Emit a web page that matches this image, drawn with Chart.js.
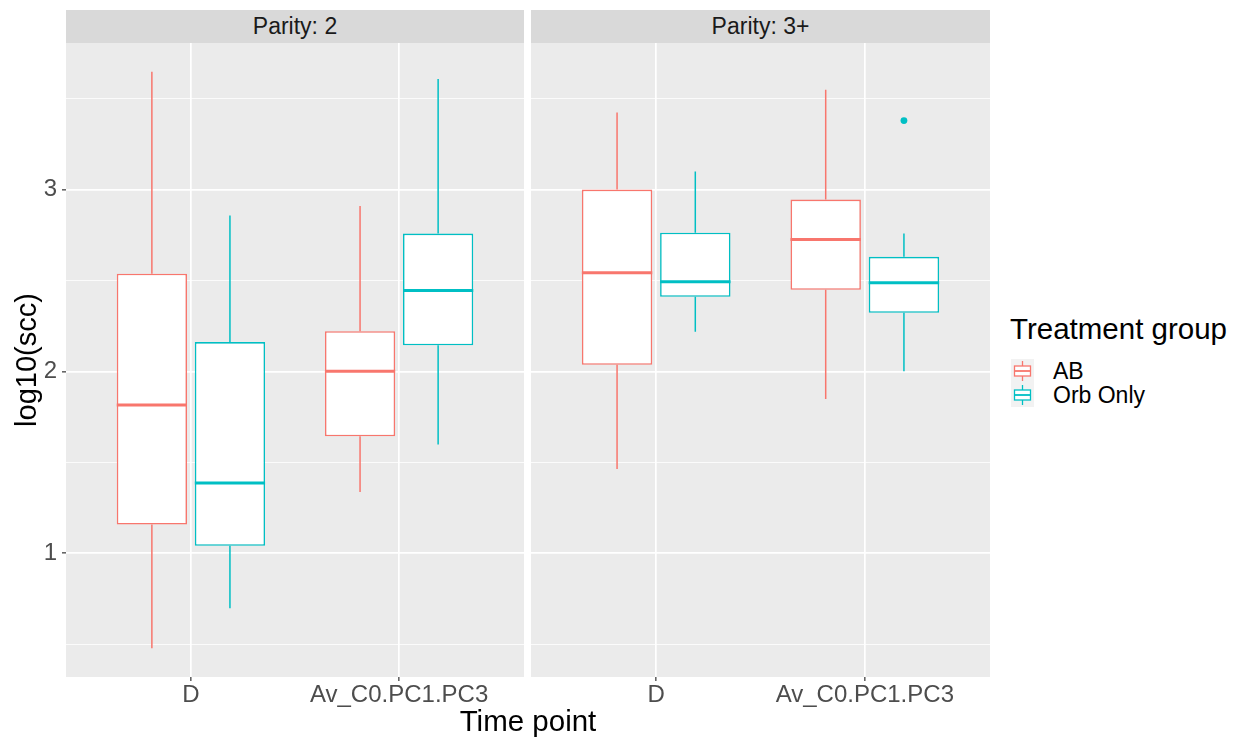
<!DOCTYPE html>
<html>
<head>
<meta charset="utf-8">
<script src="https://cdn.jsdelivr.net/npm/chart.js@4.4.1/dist/chart.umd.min.js"></script>
<style>
  body { margin: 0; background: #ffffff; font-family: "Liberation Sans", Arial, sans-serif; }
  #wrap { position: relative; width: 1240px; height: 740px; overflow: hidden; }
  canvas { position: absolute; }
  .strip { position: absolute; top: 10px; height: 33px; line-height: 33px; background: #d9d9d9;
           color: #1a1a1a; font-size: 23px; text-align: center; }
  .title { position: absolute; color: #000000; font-size: 29.5px; white-space: nowrap; }
  .key { position: absolute; left: 1011px; width: 23px; height: 24px; }
  .keyLabel { position: absolute; left: 1053px; font-size: 23px; line-height: 24px; color: #000000; }
</style>
</head>
<body>
<div id="wrap">
  <canvas id="panel2" width="524" height="680" style="left:0px; top:43px;"></canvas>
  <canvas id="panel3" width="459" height="680" style="left:531px; top:43px;"></canvas>
  <div class="strip" style="left:66px; width:458px;">Parity: 2</div>
  <div class="strip" style="left:531px; width:459px;">Parity: 3+</div>
  <div class="title" style="left:66px; width:924px; top:704px; line-height:34px; text-align:center;">Time point</div>
  <div class="title" style="left:1010px; top:312px; line-height:34px;">Treatment group</div>
  <div id="legendKeys"></div>
</div>
<script>
/* ── Data: [lower whisker, Q1, median, Q3, upper whisker] per time point ── */
const timePoints  = ['D', 'Av_C0.PC1.PC3'];
const groupNames  = ['AB', 'Orb Only'];
const groupColors = ['#F8766D', '#00BFC4'];

const parity2AB  = [[0.477, 1.157, 1.815, 2.537, 3.648], [1.336, 1.643, 2.0, 2.221, 2.91]];
const parity2Orb = [[0.697, 1.04, 1.386, 2.161, 2.857], [1.597, 2.143, 2.445, 2.758, 3.608]];
const parity3AB  = [[1.463, 2.036, 2.543, 3.0, 3.424], [1.848, 2.449, 2.725, 2.945, 3.55]];
const parity3Orb = [[2.218, 2.41, 2.493, 2.763, 3.10], [2.0, 2.322, 2.488, 2.63, 2.758]];
const parity2OrbOutliers = [[], []];
const parity3OrbOutliers = [[], [3.38]];

const yLabelTicks = [1, 2, 3];

/* ── Layout constants (ggplot-like) ── */
const FONT       = '"Liberation Sans", Arial, sans-serif';
const DODGE      = 0.1875;      // half of 0.75 dodge width
const PANEL_H    = 634;
const X_AXIS_H   = 680 - PANEL_H;
const Y_AXIS_W   = 66;

function xPos(t, g) { return t + 1 + (g === 0 ? -DODGE : DODGE); }

/* shared y range: data range expanded by 5% each side */
const allValues = [parity2AB, parity2Orb, parity3AB, parity3Orb].flat(2)
  .concat(parity2OrbOutliers.flat(), parity3OrbOutliers.flat());
const dataMin = Math.min(...allValues);
const dataMax = Math.max(...allValues);
const yMin = dataMin - (dataMax - dataMin) * 0.05;
const yMax = dataMax + (dataMax - dataMin) * 0.05;

const yGridValues = [];
for (let v = Math.ceil(yMin * 2) / 2; v <= yMax; v += 0.5) yGridValues.push(v);
function isMajor(v) { return yLabelTicks.includes(v); }

function noPadding(s) {
  s.paddingTop = 0; s.paddingBottom = 0; s.paddingLeft = 0; s.paddingRight = 0;
}

/* ── Plugins ── */
const panelBg = {
  id: 'panelBg',
  beforeDraw(chart) {
    const { ctx, chartArea: a } = chart;
    ctx.save();
    ctx.fillStyle = '#ebebeb';
    ctx.fillRect(a.left, a.top, a.right - a.left, a.bottom - a.top);
    ctx.restore();
  }
};

const whiskers = {
  id: 'whiskers',
  afterDatasetsDraw(chart) {
    const { ctx } = chart;
    const yScale = chart.scales.y;
    chart.data.datasets.forEach((ds, di) => {
      if (!ds.stats) return;
      const meta = chart.getDatasetMeta(di);
      meta.data.forEach((bar, i) => {
        const s = ds.stats[i];
        const { x, width } = bar.getProps(['x', 'width'], true);
        ctx.save();
        ctx.strokeStyle = ds.borderColor;
        ctx.lineWidth = 1.5;
        ctx.beginPath();
        ctx.moveTo(x, yScale.getPixelForValue(s[0]));
        ctx.lineTo(x, yScale.getPixelForValue(s[1]));
        ctx.moveTo(x, yScale.getPixelForValue(s[3]));
        ctx.lineTo(x, yScale.getPixelForValue(s[4]));
        ctx.stroke();
        ctx.lineWidth = 3;
        ctx.beginPath();
        const ym = yScale.getPixelForValue(s[2]);
        ctx.moveTo(x - width / 2, ym);
        ctx.lineTo(x + width / 2, ym);
        ctx.stroke();
        ctx.restore();
      });
    });
  }
};

/* ── Panels ── */
function boxDataset(stats, g) {
  return {
    type: 'bar',
    label: groupNames[g],
    data: stats.map((s, t) => ({ x: xPos(t, g), y: [s[1], s[3]] })),
    stats,
    backgroundColor: '#ffffff',
    borderColor: groupColors[g],
    borderWidth: 1.6,
    borderSkipped: false,
    grouped: false,
    categoryPercentage: 0.9,
    barPercentage: 1.0,
    order: 2
  };
}

function outlierDataset(outliers, g) {
  return {
    type: 'line',
    label: groupNames[g] + ' outliers',
    data: outliers.flatMap((list, t) => list.map(v => ({ x: xPos(t, g), y: v }))),
    showLine: false,
    pointRadius: 3.4,
    pointBackgroundColor: groupColors[g],
    pointBorderWidth: 0,
    order: 0
  };
}

function makePanel(canvasId, abStats, orbStats, orbOutliers, showY) {
  return new Chart(document.getElementById(canvasId), {
    type: 'bar',
    data: {
      datasets: [
        boxDataset(abStats, 0),
        boxDataset(orbStats, 1),
        outlierDataset(orbOutliers, 1)
      ]
    },
    options: {
      responsive: false,
      devicePixelRatio: 1,
      animation: false,
      layout: { padding: 0, autoPadding: false },
      plugins: { legend: { display: false }, tooltip: { enabled: false } },
      scales: {
        x: {
          type: 'linear',
          min: 0.4,
          max: timePoints.length + 0.6,
          offset: false,
          afterBuildTicks: s => { s.ticks = timePoints.map((_, i) => ({ value: i + 1 })); },
          afterFit: s => { s.height = X_AXIS_H; noPadding(s); },
          grid: { color: '#ffffff', lineWidth: 1.7, offset: false,
                  tickColor: '#333333', tickLength: 4, tickWidth: 1.2 },
          border: { display: false },
          ticks: {
            callback: v => timePoints[Math.round(v) - 1],
            color: '#4d4d4d',
            font: { family: FONT, size: 24 },
            padding: 0,
            maxRotation: 0,
            autoSkip: false
          }
        },
        y: {
          type: 'linear',
          min: yMin,
          max: yMax,
          beginAtZero: false,
          afterBuildTicks: s => { s.ticks = yGridValues.map(v => ({ value: v })); },
          afterFit: s => { s.width = showY ? Y_AXIS_W : 0; noPadding(s); },
          grid: {
            color: '#ffffff',
            lineWidth: c => isMajor(c.tick.value) ? 1.7 : 0.8,
            drawTicks: showY,
            tickColor: c => isMajor(c.tick.value) ? '#333333' : 'rgba(0,0,0,0)',
            tickLength: 4,
            tickWidth: 1.2
          },
          border: { display: false },
          ticks: {
            display: showY,
            callback: v => isMajor(v) ? String(v) : '',
            color: '#4d4d4d',
            font: { family: FONT, size: 24 },
            padding: 5,
            autoSkip: false
          },
          title: {
            display: showY,
            text: 'log10(scc)',
            color: '#000000',
            font: { family: FONT, size: 29 },
            padding: { top: 11, bottom: 0 }
          }
        }
      }
    },
    plugins: [panelBg, whiskers]
  });
}

makePanel('panel2', parity2AB, parity2Orb, parity2OrbOutliers, true);
makePanel('panel3', parity3AB, parity3Orb, parity3OrbOutliers, false);

/* ── Legend ── */
const legendKeys = document.getElementById('legendKeys');
const keyTops = [359, 383];
groupNames.forEach((name, g) => {
  const c = groupColors[g];
  const key = document.createElement('div');
  key.className = 'key';
  key.style.top = keyTops[g] + 'px';
  key.innerHTML =
    '<svg width="23" height="24" xmlns="http://www.w3.org/2000/svg">' +
    '<rect x="0" y="0" width="23" height="24" fill="#f2f2f2"/>' +
    '<line x1="11.5" y1="2" x2="11.5" y2="7" stroke="' + c + '" stroke-width="1.3"/>' +
    '<line x1="11.5" y1="17" x2="11.5" y2="22" stroke="' + c + '" stroke-width="1.3"/>' +
    '<rect x="3.5" y="7" width="16" height="10" fill="#ffffff" stroke="' + c + '" stroke-width="1.3"/>' +
    '<line x1="3.5" y1="12" x2="19.5" y2="12" stroke="' + c + '" stroke-width="1.8"/>' +
    '</svg>';
  legendKeys.appendChild(key);
  const label = document.createElement('div');
  label.className = 'keyLabel';
  label.style.top = keyTops[g] + 'px';
  label.textContent = name;
  legendKeys.appendChild(label);
});
</script>
</body>
</html>
